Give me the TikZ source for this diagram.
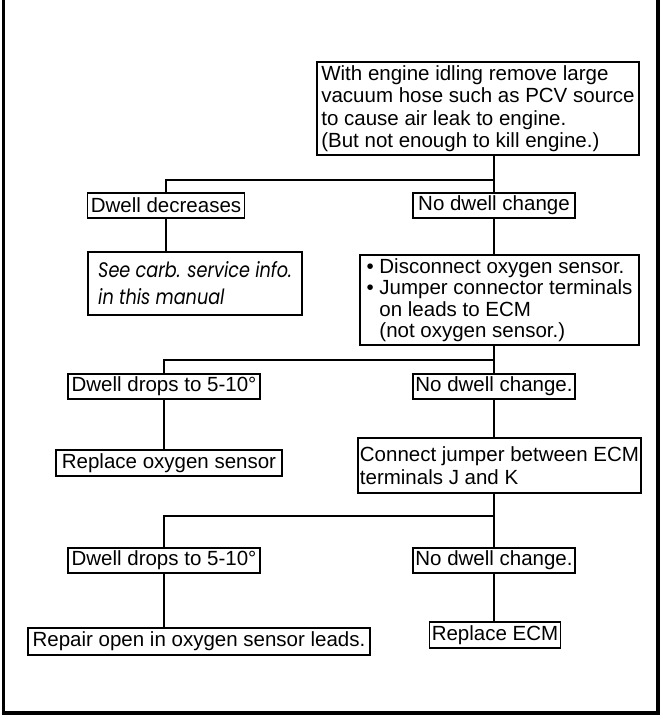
\documentclass[tikz,border=0pt]{standalone}
\usepackage{fontspec}
\setmainfont{Liberation Sans}
\newfontfamily\geofont{Poppins}[FakeStretch=0.84]
\begin{document}
\begin{tikzpicture}[x=1pt,y=1pt,
  box/.style={draw, line width=1.2pt, inner xsep=2pt, inner ysep=0pt, align=left,
    font=\fontsize{20.5}{22.5}\selectfont},
  cbox/.style={box, align=center},
  wire/.style={line width=1.2pt},
  frameline/.style={line width=3.2pt}]
\useasboundingbox (0,0) rectangle (662,-719);

% outer frame, open at the top
\draw[frameline] (3.5,2) -- (3.5,-713) -- (658,-713) -- (658,2);

% first test
\node[box, minimum width=322, minimum height=93] (start) at (478,-108.5)
  {With engine idling remove large\\vacuum hose such as PCV source\\to cause air leak to engine.\\(But not enough to kill engine.)};

% first branch
\node[cbox, minimum width=157, minimum height=25] (dec) at (166,-205.5) {Dwell decreases};
\node[cbox, minimum width=162, minimum height=25] (nc1) at (494,-205.5) {No dwell change};
\node[draw, line width=2.6pt, inner xsep=4pt, inner ysep=0pt, align=left, minimum width=214, minimum height=63,
  font=\geofont\itshape\fontsize{21}{27}\selectfont] (carb) at (195,-283.5)
  {See carb. service info.\\in this manual\hspace*{60pt}};
\node[box, minimum width=279, minimum height=90,
  font=\fontsize{20.5}{21.5}\selectfont] (disc) at (499.5,-300)
  {\textbullet\ Disconnect oxygen sensor.\hspace*{8pt}\\\textbullet\ Jumper connector terminals\\\phantom{\textbullet\ }on leads to ECM\\\phantom{\textbullet\ }(not oxygen sensor.)};

% second branch
\node[cbox, minimum width=192, minimum height=25] (dd2) at (164,-386.5) {Dwell drops to 5-10°};
\node[cbox, minimum width=162, minimum height=25] (nc2) at (494,-386.5) {No dwell change.};
\node[cbox, minimum width=226, minimum height=26] (oxy) at (169,-463) {Replace oxygen sensor};
\node[box, minimum width=279, minimum height=55] (jump) at (499.5,-465.5)
  {Connect jumper between ECM\\terminals J and K};

% third branch
\node[cbox, minimum width=192, minimum height=25] (dd3) at (164,-560.5) {Dwell drops to 5-10°};
\node[cbox, minimum width=162, minimum height=25] (nc3) at (494,-560.5) {No dwell change.};
\node[cbox, minimum width=342, minimum height=27] (leads) at (199,-641.5) {Repair open in oxygen sensor leads.};
\node[cbox, minimum width=130, minimum height=26] (ecm) at (495,-635) {Replace ECM};

% junction points
\coordinate (j1) at (494,-180);
\coordinate (j2) at (494,-360);
\coordinate (j3) at (494,-516);

% connectors
\draw[wire] (start.south -| nc1.north) -- (nc1.north);
\draw[wire] (j1) -| (dec.north);
\draw[wire] (dec.south) -- (dec.south |- carb.north);
\draw[wire] (nc1.south) -- (nc1.south |- disc.north);

\draw[wire] (disc.south -| nc2.north) -- (nc2.north);
\draw[wire] (j2) -| (dd2.north);
\draw[wire] (dd2.south) -- (dd2.south |- oxy.north);
\draw[wire] (nc2.south) -- (nc2.south |- jump.north);

\draw[wire] (jump.south -| nc3.north) -- (nc3.north);
\draw[wire] (j3) -| (dd3.north);
\draw[wire] (dd3.south) -- (dd3.south |- leads.north);
\draw[wire] (nc3.south) -- (nc3.south |- ecm.north);
\end{tikzpicture}
\end{document}
